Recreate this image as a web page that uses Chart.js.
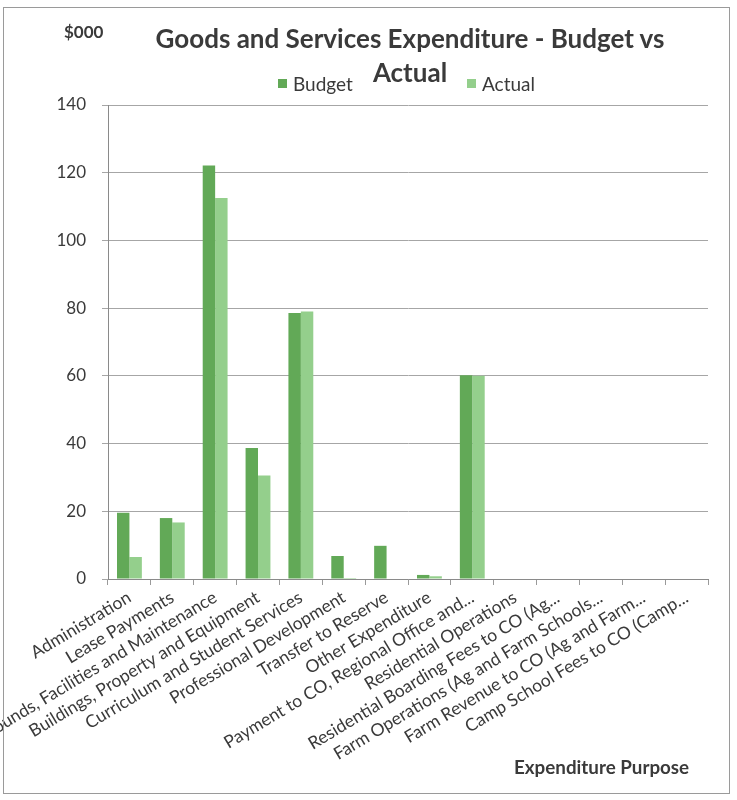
<!DOCTYPE html>
<html>
<head>
<meta charset="utf-8">
<script src="https://cdn.jsdelivr.net/npm/chart.js@4.4.1/dist/chart.umd.min.js"></script>
<style>
  html, body { margin: 0; padding: 0; background: #fff; }
  #wrap { position: relative; width: 737px; height: 800px; overflow: hidden; font-family: Lato, "Open Sans", sans-serif; color: #3a3a3a; }
  #frame { position: absolute; left: 3px; top: 7px; width: 727px; height: 787px; border: 1px solid #9a9a9a; box-sizing: border-box; pointer-events: none; }
  canvas { position: absolute; left: 0; top: 0; }
  .t { position: absolute; white-space: nowrap; }
  #title1 { left: 0; width: 820px; top: 22px; text-align: center; font-weight: 700; font-size: 26px; }
  #title2 { left: 0; width: 820px; top: 56px; text-align: center; font-weight: 700; font-size: 26px; }
  #unit { left: 64px; top: 21px; font-size: 17px; font-weight: 700; }
  #xtitle { left: 514px; top: 755px; font-size: 18.8px; font-weight: 700; }
  .leg { position: absolute; top: 72px; font-size: 19px; display: flex; align-items: center; }
  .leg i { display: inline-block; width: 9px; height: 9px; margin-right: 6px; }
</style>
</head>
<body>
<div id="wrap">
  <canvas id="c" width="737" height="800"></canvas>
  <div class="t" id="unit">$000</div>
  <div class="t" id="title1">Goods and Services Expenditure - Budget vs</div>
  <div class="t" id="title2">Actual</div>
  <div id="legend"></div>
  <div class="t" id="xtitle">Expenditure Purpose</div>
  <div id="frame"></div>
</div>
<script>
const categories = [
  "Administration",
  "Lease Payments",
  "Grounds, Facilities and Maintenance",
  "Buildings, Property and Equipment",
  "Curriculum and Student Services",
  "Professional Development",
  "Transfer to Reserve",
  "Other Expenditure",
  "Payment to CO, Regional Office and...",
  "Residential Operations",
  "Residential Boarding Fees to CO (Ag...",
  "Farm Operations (Ag and Farm Schools...",
  "Farm Revenue to CO (Ag and Farm...",
  "Camp School Fees to CO (Camp..."
];
const budgetValues = [19.6, 18.0, 122.1, 38.7, 78.6, 6.8, 9.8, 1.2, 60.2, 0, 0, 0, 0, 0];
const actualValues = [6.5, 16.7, 112.5, 30.6, 79.0, 0.3, 0, 0.8, 60.0, 0, 0, 0, 0, 0];
const seriesNames = ["Budget", "Actual"];
const yMin = 0, yMax = 140, yStep = 20;

const colors = ["#62a957", "#94cf8c"];

const chart = new Chart(document.getElementById('c'), {
  type: 'bar',
  data: {
    labels: categories,
    datasets: [
      { label: seriesNames[0], data: budgetValues, backgroundColor: colors[0], borderWidth: 0 },
      { label: seriesNames[1], data: actualValues, backgroundColor: colors[1], borderWidth: 0 }
    ]
  },
  options: {
    responsive: false,
    animation: false,
    devicePixelRatio: 1,
    layout: { padding: { top: 105, right: 29, bottom: 0, left: 0 } },
    plugins: { legend: { display: false }, title: { display: false }, tooltip: { enabled: false } },
    datasets: { bar: { categoryPercentage: 0.58, barPercentage: 1.0 } },
    scales: {
      x: {
        afterFit: s => { s.height = 221; },
        grid: { display: true, drawOnChartArea: false, offset: true, color: '#9a9a9a', tickLength: 6 },
        border: { color: '#8a8a8a' },
        ticks: {
          autoSkip: false, minRotation: 31, maxRotation: 31, padding: 2,
          color: '#3a3a3a', font: { family: 'Lato', size: 17.5 }
        }
      },
      y: {
        min: yMin, max: yMax,
        afterFit: s => { s.width = 108; },
        grid: { color: '#a6a6a6', tickLength: 6 },
        border: { color: '#8a8a8a' },
        ticks: { stepSize: yStep, padding: 16, color: '#3a3a3a', font: { family: 'Lato', size: 17 } }
      }
    }
  }
});

// HTML legend built from datasets
const legend = document.getElementById('legend');
const legPos = [278, 467];
chart.data.datasets.forEach((ds, i) => {
  const d = document.createElement('div');
  d.className = 'leg';
  d.style.left = legPos[i] + 'px';
  const sw = document.createElement('i');
  sw.style.background = ds.backgroundColor;
  d.appendChild(sw);
  d.appendChild(document.createTextNode(ds.label));
  legend.appendChild(d);
});
</script>
</body>
</html>
